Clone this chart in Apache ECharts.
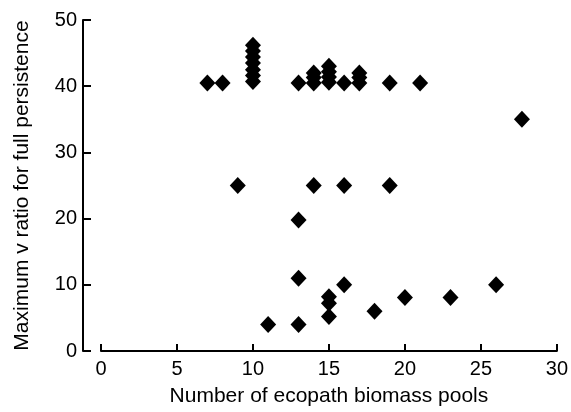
<!DOCTYPE html>
<html>
<head>
<meta charset="utf-8">
<script src="https://cdn.jsdelivr.net/npm/echarts@6/dist/echarts.min.js"></script>
<style>html,body{margin:0;padding:0;background:#fff;}#c{width:571px;height:412px;}</style>
</head>
<body>
<div id="c"></div>
<script>
var xTitle = "Number of ecopath biomass pools";
var yTitle = "Maximum v ratio for full persistence";
var xTicks = [0, 5, 10, 15, 20, 25, 30];
var yTicks = [0, 10, 20, 30, 40, 50];
var poolCounts = [7, 8, 10, 10, 10, 10, 10, 10, 10, 13, 14, 14, 14, 15, 15, 15, 15, 16, 17, 17, 17, 19, 21, 27.7,
                  9, 14, 16, 19, 13,
                  13, 16, 15, 15, 15, 18, 20, 23, 26, 11, 13];
var maxRatios = [40.5, 40.5, 40.7, 41.6, 42.5, 43.5, 44.4, 45.3, 46.2, 40.5, 40.5, 41.3, 42, 40.6, 41.4, 42.2, 43, 40.5, 40.5, 41.3, 42, 40.5, 40.5, 35,
                 25, 25, 25, 25, 19.8,
                 11, 10, 8.2, 7.2, 5.2, 6, 8.1, 8.1, 10, 4, 4];

var pts = poolCounts.map(function (x, i) { return [x, maxRatios[i]]; });
var font = 'Liberation Sans, Arial, sans-serif';
var chart = echarts.init(document.getElementById('c'));
chart.setOption({
  animation: false,
  backgroundColor: '#fff',
  grid: { left: 101, right: 12, top: 20, bottom: 60 },
  xAxis: {
    type: 'value',
    min: xTicks[0], max: xTicks[xTicks.length - 1], interval: xTicks[1] - xTicks[0],
    name: xTitle, nameLocation: 'middle', nameGap: 35,
    nameTextStyle: { color: '#000', fontSize: 21, fontFamily: font },
    axisLine: { show: true, onZero: false, lineStyle: { color: '#000', width: 2 } },
    axisTick: { show: true, inside: true, length: 7, lineStyle: { color: '#000', width: 2 } },
    axisLabel: { color: '#000', fontSize: 20, fontFamily: font, margin: 8 },
    splitLine: { show: false }
  },
  yAxis: {
    type: 'value',
    min: yTicks[0], max: yTicks[yTicks.length - 1], interval: yTicks[1] - yTicks[0],
    offset: 18,
    name: yTitle, nameLocation: 'middle', nameGap: 50,
    nameTextStyle: { color: '#000', fontSize: 21, fontFamily: font },
    axisLine: { show: true, onZero: false, lineStyle: { color: '#000', width: 2 } },
    axisTick: { show: true, inside: true, length: 8, lineStyle: { color: '#000', width: 2 } },
    axisLabel: { color: '#000', fontSize: 20, fontFamily: font, margin: 6 },
    splitLine: { show: false }
  },
  series: [{
    type: 'scatter',
    data: pts,
    symbol: 'diamond',
    symbolSize: [16, 17],
    itemStyle: { color: '#000', opacity: 1 }
  }]
});
</script>
</body>
</html>
